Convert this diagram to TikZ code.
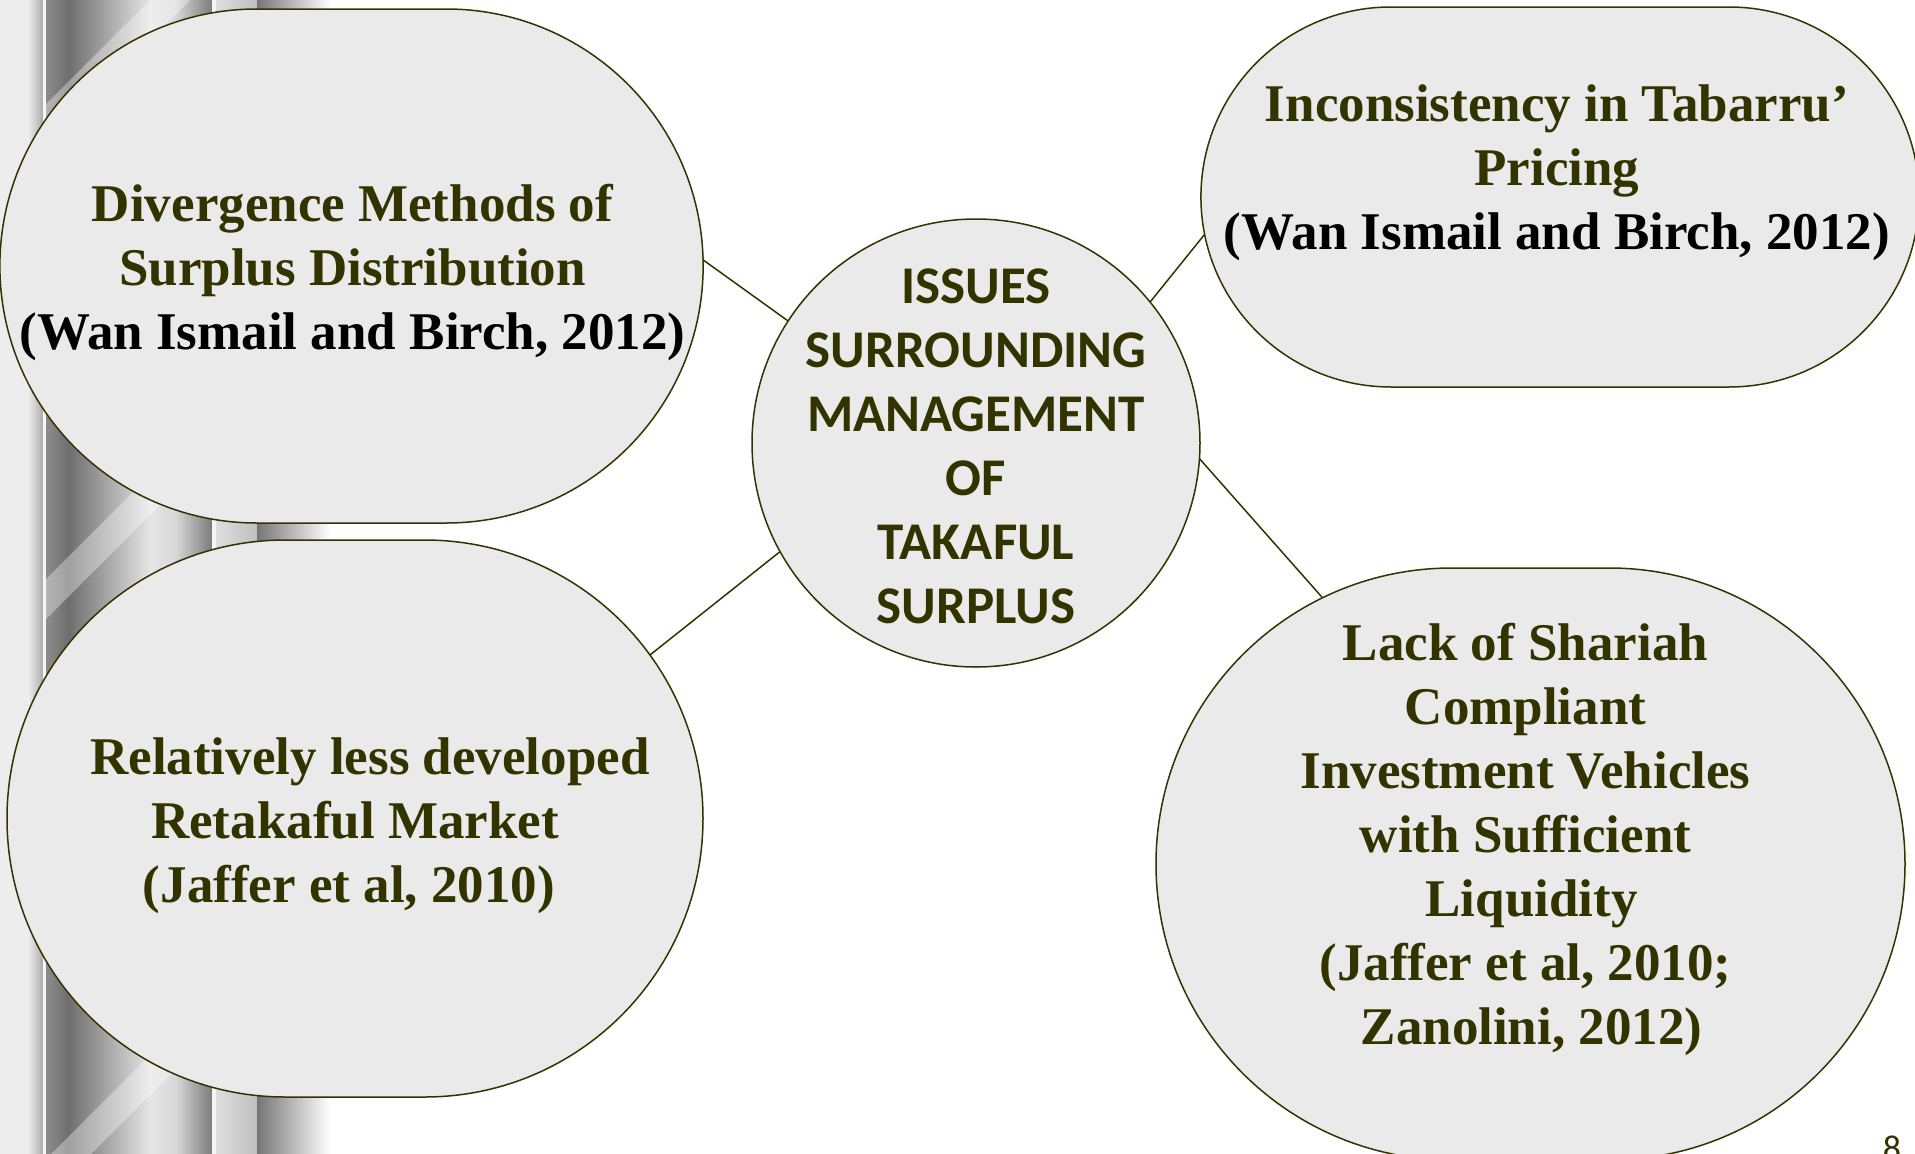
\documentclass[tikz,border=0pt]{standalone}
\usepackage{fontspec}
\setmainfont{Liberation Serif}
\newfontfamily\calibri{Carlito}
\usetikzlibrary{shapes.misc}

\definecolor{olive}{RGB}{51,51,0}
\definecolor{bubblefill}{RGB}{234,234,234}

% stacked, centred lines of a bubble
\newcommand{\bubtext}[1]{\begin{tabular}{@{}c@{}}#1\end{tabular}}
% shift text by (#1 right, #2 up) without changing the box the node centres
\newcommand{\nudge}[3]{\raisebox{#2}[\height][\depth]{\hspace*{#1}#3\hspace*{-#1}}}
% text that takes no room, so the circle keeps its own size
\newcommand{\nosize}[2]{\makebox[0pt]{\raisebox{#1}[0pt][0pt]{#2}}}

\tikzset{
  bubble/.style={rounded rectangle, draw=olive, line width=1.5pt, fill=bubblefill,
    inner sep=0pt, outer sep=0pt, text=olive,
    font=\bfseries\fontsize{53}{64}\selectfont},
  hub/.style={circle, draw=olive, line width=1.5pt, fill=bubblefill,
    minimum size=448pt, inner sep=0pt, outer sep=0pt, text=olive,
    font=\calibri\bfseries\fontsize{53}{64}\selectfont},
  link/.style={draw=olive, line width=1.5pt},
  band/.style={fill=white, opacity=0.35}
}

\begin{document}
\begin{tikzpicture}[x=1pt,y=-1pt]
\useasboundingbox (0,0) rectangle (1915,1154);
\clip (0,0) rectangle (1915,1154);

% ---- backdrop: metallic strips on the left edge ----
\fill[white] (0,0) rectangle (1915,1154);
\fill[black!7] (0,0) rectangle (28.5,1154);
\shade[left color=black!7, right color=black!34] (28,0) rectangle (43.5,1154);
\fill[black!3] (43,0) rectangle (46.5,1154);
\shade[left color=black!45, right color=black!57] (46,0) rectangle (68.5,1154);
\shade[left color=black!57, right color=black!10] (68,0) rectangle (150.5,1154);
\shade[left color=black!10, right color=black!15] (150,0) rectangle (175.5,1154);
\shade[left color=black!15, right color=black!52] (175,0) rectangle (212.5,1154);
\fill[black!4] (212,0) rectangle (216.5,1154);
\shade[left color=black!13, right color=black!25] (216,0) rectangle (257.5,1154);
\shade[left color=black!54, right color=white] (257,0) rectangle (330,1154);
\begin{scope}
  \clip (46,0) rectangle (212,1154);
  \foreach \c in {170,645,1225}{
    \fill[band] (46,\c-20-46) -- (212,\c-20-212) -- (212,\c+20-212) -- (46,\c+20-46) -- cycle;
  }
\end{scope}

% ---- bubbles ----
\node[hub] (hub) at (976,443)
  {\nosize{-14pt}{\bubtext{ISSUES\\SURROUNDING\\MANAGEMENT\\OF\\TAKAFUL\\SURPLUS}}};

\node[bubble, minimum width=703pt, minimum height=514pt] (divergence) at (351.5,266)
  {\nudge{1pt}{-7pt}{\bubtext{Divergence Methods of\\Surplus Distribution\\\textcolor{black}{(Wan Ismail and Birch, 2012)}}}};

\node[bubble, minimum width=696pt, minimum height=557pt] (retakaful) at (355,818.5)
  {\nudge{0pt}{-7pt}{\bubtext{\hspace*{30pt}Relatively less developed\\Retakaful Market\\(Jaffer et al, 2010)\hspace*{12pt}}}};

\node[bubble, minimum width=710pt, minimum height=380pt] (pricing) at (1560,197)
  {\nudge{-3pt}{24pt}{\bubtext{Inconsistency in Tabarru’\\Pricing\\\textcolor{black}{(Wan Ismail and Birch, 2012)}}}};

\node[bubble, minimum width=749pt, minimum height=592pt] (liquidity) at (1530.5,864)
  {\nudge{-5pt}{24pt}{\bubtext{Lack of Shariah\\Compliant\\Investment Vehicles\\with Sufficient\\\hspace*{12pt}Liquidity\\(Jaffer et al, 2010;\\\hspace*{12pt}Zanolini, 2012)}}};

% ---- connectors ----
\draw[link] (divergence.1) -- (hub.147);
\draw[link] (hub.209) -- (retakaful.29.4);
\draw[link] (hub.39.3) -- (pricing.186);
\draw[link] (hub.-4.4) -- (liquidity.128);

% ---- slide number ----
\node[text=olive, font=\calibri\fontsize{36}{40}\selectfont, anchor=base, inner sep=0pt] (pagenum) at (1892,1160) {8};
\end{tikzpicture}
\end{document}
